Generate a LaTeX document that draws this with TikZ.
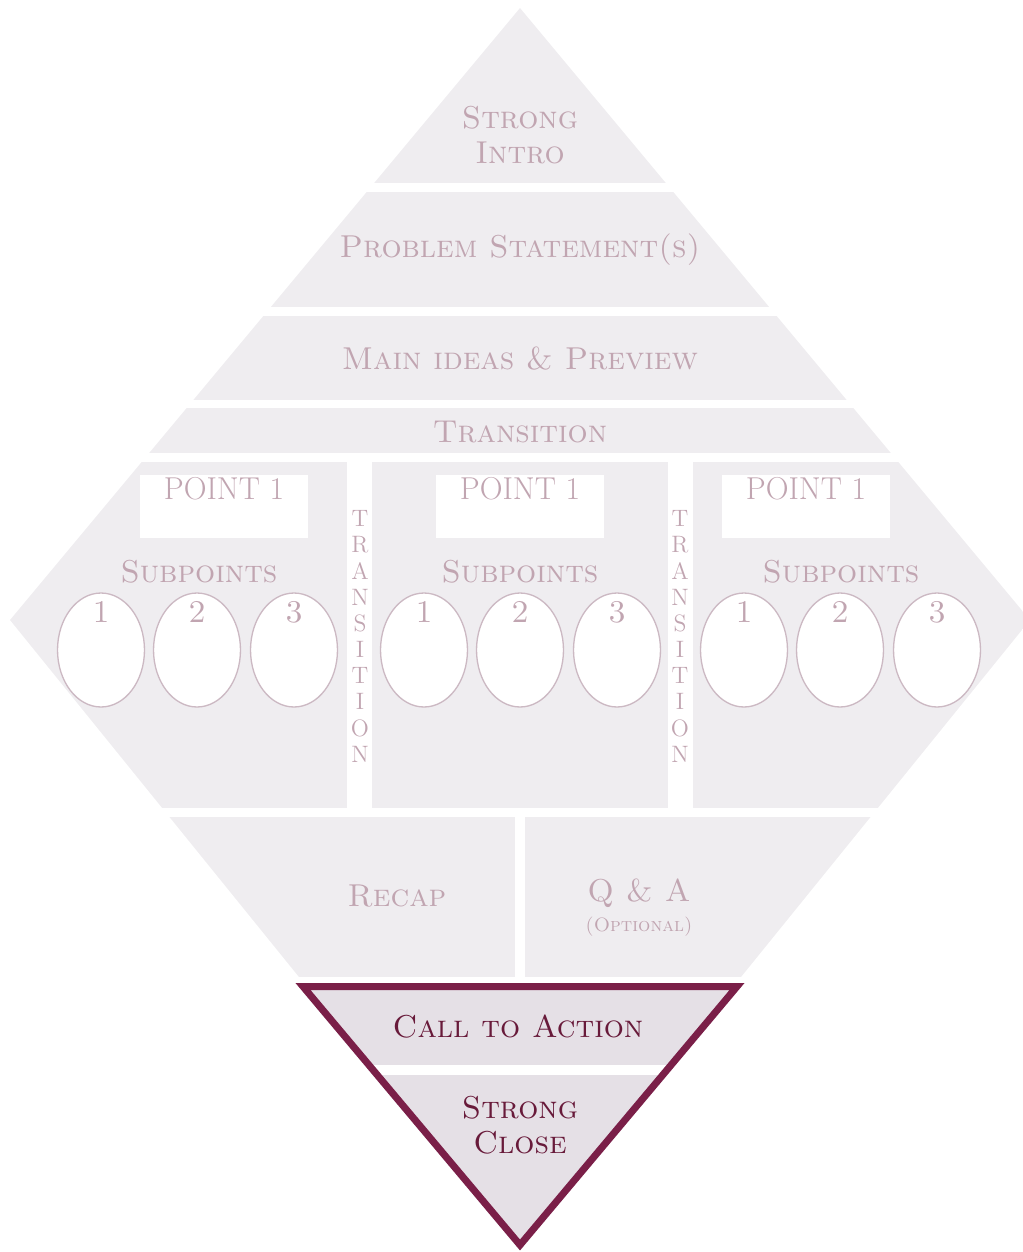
\documentclass[tikz,border=0pt]{standalone}
\usetikzlibrary{shapes.geometric}

\definecolor{bandfill}{RGB}{239,237,240}
\definecolor{softtext}{RGB}{193,165,177}
\definecolor{softline}{RGB}{204,185,195}
\definecolor{closefill}{RGB}{229,224,230}
\definecolor{darkrim}{RGB}{122,31,72}
\definecolor{darktext}{RGB}{104,26,58}

\def\lbl{\fontsize{18}{19.6}\selectfont}

\begin{document}
\begin{tikzpicture}[x=0.02cm, y=-0.02cm,
    every node/.style={anchor=center, inner sep=0pt},
    band/.style={font=\lbl\scshape, text=softtext, align=center},
    closeband/.style={font=\lbl\scshape, text=darktext, align=center},
    pointbox/.style={fill=white, minimum width=3.36cm, minimum height=1.26cm},
    subpt/.style={ellipse, draw=softline, line width=0.75pt, fill=white,
      minimum width=1.74cm, minimum height=2.28cm},
    vtrans/.style={font=\fontsize{13.5}{14.9}\selectfont, text=softtext, align=center}]
      \useasboundingbox (0,0) rectangle (1022,1252);
      % diamond bands
      \begin{scope}
        \clip (520,8) -- (1030,620) -- (520,1250) -- (10,620) -- cycle;
        \fill[bandfill] (0,8) rectangle (1040,183);
        \fill[bandfill] (0,192) rectangle (1040,307);
        \fill[bandfill] (0,316) rectangle (1040,400);
        \fill[bandfill] (0,408) rectangle (1040,453);
        \fill[bandfill] (0,462) rectangle (347,808);
        \fill[bandfill] (372,462) rectangle (668,808);
        \fill[bandfill] (693,462) rectangle (1040,808);
        \fill[bandfill] (0,817) rectangle (515,977);
        \fill[bandfill] (525,817) rectangle (1040,977);
      \end{scope}
      % closing triangle
      \begin{scope}
        \clip (303,986.5) -- (737,986.5) -- (520,1245) -- cycle;
        \fill[closefill] (0,990) rectangle (1040,1065);
        \fill[closefill] (0,1075) rectangle (1040,1260);
      \end{scope}
      \draw[darkrim, line width=4pt] (303,986.5) -- (737,986.5) -- (520,1245) -- cycle;

      \node[band] (intro) at (520,135) {Strong\\Intro};
      \node[band] (problem) at (520,250) {Problem Statement(s)};
      \node[band] (preview) at (520,359) {Main ideas \& Preview};
      \node[band] (trans) at (520,432) {Transition};

      \node[pointbox] (boxl) at (224,506.5) {};
      \node[pointbox] (boxm) at (520,506.5) {};
      \node[pointbox] (boxr) at (806,506.5) {};
      \node[band, font=\lbl] (pointl) at (224,489) {POINT 1};
      \node[band, font=\lbl] (pointm) at (520,489) {POINT 1};
      \node[band, font=\lbl] (pointr) at (806,489) {POINT 1};

      \node[band] (subl) at (199,572) {Subpoints};
      \node[band] (subm) at (520,572) {Subpoints};
      \node[band] (subr) at (841,572) {Subpoints};

      \node[subpt] (l1) at (101,650) {};
      \node[subpt] (l2) at (197,650) {};
      \node[subpt] (l3) at (294,650) {};
      \node[subpt] (m1) at (424,650) {};
      \node[subpt] (m2) at (520,650) {};
      \node[subpt] (m3) at (617,650) {};
      \node[subpt] (r1) at (744,650) {};
      \node[subpt] (r2) at (840,650) {};
      \node[subpt] (r3) at (937,650) {};
      \node[band] (l1n) at (101,612) {1};
      \node[band] (l2n) at (197,612) {2};
      \node[band] (l3n) at (294,612) {3};
      \node[band] (m1n) at (424,612) {1};
      \node[band] (m2n) at (520,612) {2};
      \node[band] (m3n) at (617,612) {3};
      \node[band] (r1n) at (744,612) {1};
      \node[band] (r2n) at (840,612) {2};
      \node[band] (r3n) at (937,612) {3};

      \node[vtrans] (transl) at (360,636.5) {T\\R\\A\\N\\S\\I\\T\\I\\O\\N};
      \node[vtrans] (transr) at (680,636.5) {T\\R\\A\\N\\S\\I\\T\\I\\O\\N};

      \node[band] (recap) at (397,896) {Recap};
      \node[band] (qa) at (639,893) {Q \& A};
      \node[band, font=\fontsize{11}{12}\selectfont\scshape] (optional) at (639,927) {(Optional)};

      \node[closeband] (action) at (518,1027) {Call to Action};
      \node[closeband] (close) at (520,1125) {Strong\\Close};
    \end{tikzpicture}
\end{document}
